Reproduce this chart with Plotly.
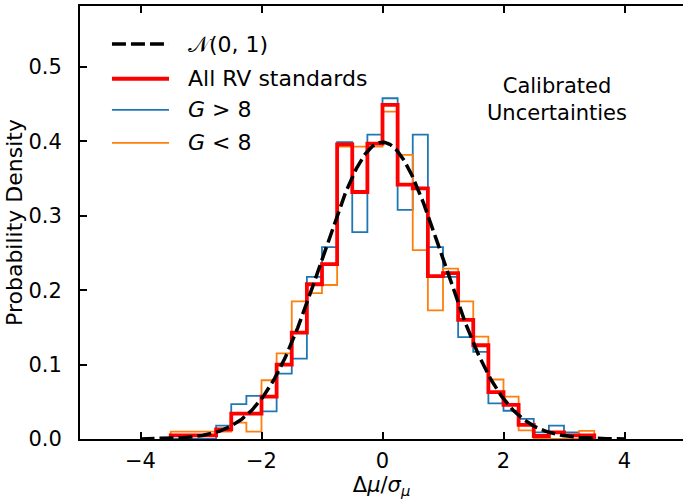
import numpy as np
import plotly.graph_objects as go

# Histogram bin edges: width 0.25 from -3.5 to 3.5
bin_edges = np.arange(-3.5, 3.5001, 0.25)

# Probability density per bin (28 bins)
all_rv = [0.005, 0.005, 0.005, 0.013, 0.034, 0.034, 0.057, 0.100, 0.143, 0.208,
          0.235, 0.396, 0.332, 0.397, 0.449, 0.342, 0.337, 0.219, 0.223, 0.160,
          0.126, 0.063, 0.046, 0.019, 0.004, 0.009, 0.005, 0.005]
g_bright = [0.0, 0.0, 0.0, 0.018, 0.047, 0.058, 0.037, 0.088, 0.108, 0.218,
            0.258, 0.399, 0.278, 0.409, 0.458, 0.308, 0.409, 0.258, 0.218, 0.137,
            0.117, 0.048, 0.038, 0.027, 0.009, 0.018, 0.009, 0.0]
g_faint = [0.010, 0.010, 0.010, 0.010, 0.022, 0.010, 0.079, 0.115, 0.185, 0.196,
           0.207, 0.393, 0.393, 0.393, 0.440, 0.382, 0.254, 0.173, 0.229, 0.185,
           0.1375, 0.080, 0.057, 0.0115, 0.0, 0.0, 0.0, 0.011]

x_ticks = [-4, -2, 0, 2, 4]
y_ticks = [0.0, 0.1, 0.2, 0.3, 0.4, 0.5]

legend_labels = ["\U0001D4A9(0, 1)", "All RV standards", "<i>G</i> > 8", "<i>G</i> &lt; 8"]

FONT = "DejaVu Sans"
FS = 21
RED = "#ff0000"
BLUE = "#1f77b4"
ORANGE = "#ff7f0e"


def step_xy(edges, vals):
    """Outline of a step histogram that drops to zero at both ends."""
    xs = [edges[0]] + list(edges)
    ys = [0.0] + list(vals) + [0.0]
    return xs, ys


fig = go.Figure()

for vals, color, width in [(g_bright, BLUE, 1.8), (g_faint, ORANGE, 1.8), (all_rv, RED, 3.8)]:
    xs, ys = step_xy(bin_edges, vals)
    fig.add_trace(go.Scatter(x=xs, y=ys, mode="lines", line=dict(color=color, width=width, shape="hv"),
                             showlegend=False, hoverinfo="skip"))

# Standard normal reference curve
xg = np.linspace(-4, 4, 401)
pdf = np.exp(-0.5 * xg ** 2) / np.sqrt(2 * np.pi)
fig.add_trace(go.Scatter(x=xg, y=pdf, mode="lines",
                         line=dict(color="black", width=3.5, dash="14px,5px"),
                         showlegend=False, hoverinfo="skip"))

# Legend drawn in the upper-left corner
legend_styles = [("black", 3.5, "14px,5px"), (RED, 3.8, "solid"), (BLUE, 1.8, "solid"), (ORANGE, 1.8, "solid")]
legend_rows = [0.912, 0.832, 0.760, 0.684]
shapes = []
annotations = []
for (col, w, d), yrow, lab in zip(legend_styles, legend_rows, legend_labels):
    shapes.append(dict(type="line", xref="paper", yref="paper", x0=0.053, x1=0.1476, y0=yrow, y1=yrow,
                       line=dict(color=col, width=w, dash=d)))
    annotations.append(dict(xref="paper", yref="paper", x=0.175, y=yrow, xanchor="left", yanchor="middle",
                            text=lab, showarrow=False, font=dict(family=FONT, size=FS + 1, color="black")))

annotations.append(dict(x=2.89, y=0.457, xref="x", yref="y", text="Calibrated<br>Uncertainties",
                        showarrow=False, align="center", xanchor="center", yanchor="middle",
                        font=dict(family=FONT, size=FS, color="black")))

fig.update_layout(
    width=683, height=499,
    margin=dict(l=80, r=0, t=6, b=60),
    paper_bgcolor="white", plot_bgcolor="white",
    font=dict(family=FONT, size=FS, color="black"),
    shapes=shapes, annotations=annotations,
    showlegend=False,
)

fig.update_xaxes(
    range=[-5, -5 + 603 / 60.5], tickvals=x_ticks, ticks="inside", ticklen=7, tickwidth=1.5,
    tickcolor="black", showline=True, linecolor="black", linewidth=2, mirror="allticks",
    showgrid=False, zeroline=False, tickfont=dict(family=FONT, size=FS), ticklabelstandoff=2,
    title=dict(text="Δ<i>μ</i>/<i>σ</i><sub><i>μ</i></sub>", font=dict(family=FONT, size=FS), standoff=1),
)
fig.update_yaxes(
    range=[0, 0.582], tickvals=y_ticks, tickformat=".1f", ticks="inside", ticklen=7, tickwidth=1.5,
    tickcolor="black", showline=True, linecolor="black", linewidth=2,
    showgrid=False, zeroline=False, tickfont=dict(family=FONT, size=FS), ticklabelstandoff=12,
    title=dict(text="Probability Density", font=dict(family=FONT, size=FS + 1), standoff=0),
)

fig.write_html("out.html")
